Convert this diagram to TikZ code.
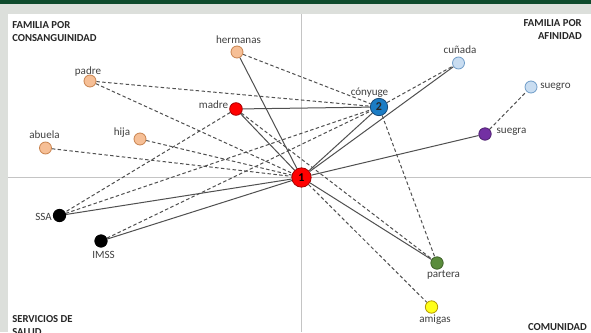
\documentclass[tikz,border=0pt]{standalone}
\usepackage{fontspec}
\setmainfont{Carlito}
\pgfdeclarelayer{bg}
\pgfdeclarelayer{edges}
\pgfsetlayers{bg,edges,main}
\definecolor{frame}{HTML}{DCDFDB}
\definecolor{topbar}{HTML}{0E4A2C}
\definecolor{axis}{HTML}{C4C4C4}
\definecolor{edge}{HTML}{505050}
\definecolor{txt}{HTML}{404040}
\definecolor{peach}{HTML}{F6BF96}
\definecolor{peachd}{HTML}{C9834E}
\definecolor{lblue}{HTML}{C9DDF1}
\definecolor{lblued}{HTML}{6E9CC8}
\definecolor{myred}{HTML}{FF0000}
\definecolor{myredd}{HTML}{A30000}
\definecolor{myblue}{HTML}{1B7CC4}
\definecolor{mybluedk}{HTML}{174A78}
\definecolor{mypurple}{HTML}{7330A3}
\definecolor{mygreen}{HTML}{5A8C3C}
\definecolor{myyellow}{HTML}{FFFF1A}
\definecolor{myyellowd}{HTML}{B49A00}
\tikzset{
  pt/.style={circle,inner sep=0pt,line width=0.6pt,minimum size=9.3pt},
  kin/.style={pt,minimum size=9pt,fill=peach,draw=peachd},
  aff/.style={pt,minimum size=9pt,fill=lblue,draw=lblued},
  ego/.style={pt,minimum size=14.5pt,fill=myred,draw=myredd,font=\fontsize{9}{9}\selectfont\bfseries,text=black},
  spouse/.style={pt,minimum size=13pt,fill=myblue,draw=mybluedk,font=\fontsize{9}{9}\selectfont\bfseries,text=black!85},
  lbl/.style={font=\fontsize{8.3}{9}\selectfont,text=txt,inner sep=0pt},
  head/.style={font=\fontsize{8}{9.6}\selectfont\bfseries,text=black!85,inner sep=0pt,align=left},
  tie/.style={draw=edge,line width=0.75pt},
  weak/.style={draw=edge,line width=0.75pt,dash pattern=on 2.6pt off 1.8pt},
}
\begin{document}
\begin{tikzpicture}[x=0.75pt,y=-0.75pt]
\useasboundingbox (0,0) rectangle (591,332);
\begin{pgfonlayer}{bg}
  \fill[frame] (0,0) rectangle (591,332);
  \fill[topbar] (0,0) rectangle (591,3.5);
  \fill[white] (8,14) rectangle (591,332);
  \draw[axis,line width=1.3pt] (8,177.5) -- (591,177.5);
  \draw[axis,line width=1.3pt] (301.5,14) -- (301.5,332);
\end{pgfonlayer}

% headings
\node[head,anchor=west] (hFC) at (12,31.5) {FAMILIA POR\\CONSANGUINIDAD};
\node[head,anchor=east,align=right] (hFA) at (582,29.5) {FAMILIA POR\\AFINIDAD};
\node[head,anchor=north west] (hSS) at (12,315.5) {SERVICIOS DE\\SALUD};
\node[head,anchor=north east] (hCO) at (587,323.5) {COMUNIDAD};

% nodes
\node[ego] (ego) at (301.5,177.5) {1};
\node[spouse] (con) at (379,107) {2};
\node[pt,minimum size=9.5pt,fill=myred,draw=myredd] (mad) at (236,109) {};
\node[kin] (her) at (237,52) {};
\node[kin] (pad) at (90,81) {};
\node[kin] (abu) at (45.5,148) {};
\node[kin] (hij) at (140,139) {};
\node[aff] (cun) at (458.5,63) {};
\node[aff] (sgo) at (531,87) {};
\node[pt,fill=mypurple,draw=mypurple!70!black] (sga) at (485,134) {};
\node[pt,fill=black,draw=black] (ssa) at (59.5,215.5) {};
\node[pt,fill=black,draw=black] (ims) at (101,241) {};
\node[pt,fill=mygreen,draw=mygreen!70!black] (par) at (437,263) {};
\node[pt,fill=myyellow,draw=myyellowd] (ami) at (431.5,307) {};

% labels
\node[lbl] (lher) at (238.5,39.5) {hermanas};
\node[lbl] (lpad) at (88,71.5) {padre};
\node[lbl] (lmad) at (213.5,105) {madre};
\node[lbl] (labu) at (44.5,135) {abuela};
\node[lbl] (lhij) at (122,133) {hija};
\node[lbl] (lcon) at (369.5,92.5) {cónyuge};
\node[lbl] (lcun) at (460,50) {cuñada};
\node[lbl] (lsgo) at (555.5,87) {suegro};
\node[lbl] (lsga) at (511.5,132) {suegra};
\node[lbl] (lssa) at (43.5,217) {SSA};
\node[lbl] (lims) at (103.5,254.5) {IMSS};
\node[lbl] (lpar) at (443.5,275) {partera};
\node[lbl] (lami) at (435,319.5) {amigas};

\begin{pgfonlayer}{edges}
  % strong ties
  \draw[tie] (ego) -- (her);
  \draw[tie] (ego) -- (mad);
  \draw[tie] (ego) -- (con);
  \draw[tie] (ego) -- (cun);
  \draw[tie] (ego) -- (sga);
  \draw[tie] (ego) -- (ssa);
  \draw[tie] (ego) -- (ims);
  \draw[tie] (ego) -- (par);
  \draw[tie] (mad) -- (con);
  % weak ties
  \draw[weak] (her) -- (con);
  \draw[weak] (pad) -- (con);
  \draw[weak] (pad) -- (ego);
  \draw[weak] (abu) -- (ego);
  \draw[weak] (hij) -- (ego);
  \draw[weak] (mad) -- (ssa);
  \draw[weak] (mad) -- (par);
  \draw[weak] (ssa) -- (con);
  \draw[weak] (ims) -- (con);
  \draw[weak] (con) -- (cun);
  \draw[weak] (con) -- (par);
  \draw[weak] (ego) -- (ami);
  \draw[weak] (sga) -- (sgo);
\end{pgfonlayer}
\end{tikzpicture}
\end{document}
